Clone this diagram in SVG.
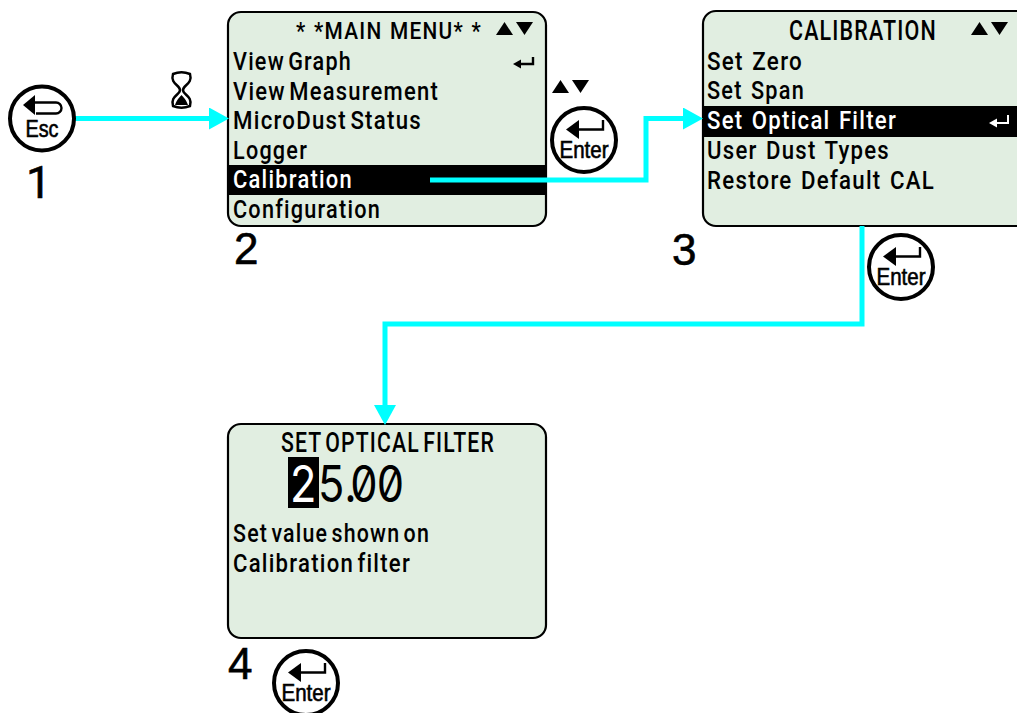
<svg xmlns="http://www.w3.org/2000/svg" width="1017" height="713" viewBox="0 0 1017 713">
<style>
.scr{fill:#e1eee1;stroke:#000;stroke-width:2.2}
.t{font-family:Roboto,"Liberation Sans",sans-serif;font-size:26.500px;font-weight:500;letter-spacing:1.500px;word-spacing:-4px;fill:#000}
.w{fill:#fff}
.h{font-size:24px}
.h2{font-size:27.500px}
.num{font-family:"Liberation Sans",sans-serif;font-size:44px;fill:#000;stroke:#000;stroke-width:.6}
.key{font-family:"Liberation Sans",sans-serif;font-size:23px;fill:#000;stroke:#000;stroke-width:.6}
.ring{fill:#fff;stroke:#000;stroke-width:4}
.lp{fill:none;stroke:#000;stroke-width:2.400}
.con{fill:none;stroke:#00ffff;stroke-width:5}
.bar{fill:#000}
.big{font-family:Inter,sans-serif;font-size:51px;font-feature-settings:'zero'}
</style>
<defs>
<marker id="ah" markerUnits="userSpaceOnUse" markerWidth="22" markerHeight="24" refX="10" refY="11" orient="auto"><path d="M0 0L20 11L0 22Z" fill="#00ffff"/></marker>
<g id="tris"><path d="M0 13L8.500 0L17 13Z"/><path d="M20 0H37L28.500 13Z"/></g>
<g id="enter"><circle class="ring" r="32"/><path d="M-18 -10.500L-5 -20V-1Z"/><path class="lp" d="M-6 -10.500H19V-20"/><text class="key" x="0" y="18" text-anchor="middle" textLength="49" lengthAdjust="spacingAndGlyphs">Enter</text></g>
</defs>
<g id="screen-2">
<rect class="scr" x="228" y="12" width="318" height="214" rx="13"/>
<rect class="bar" x="228" y="165" width="318" height="30"/>
<text class="t h" x="296" y="39" style="word-spacing:1px" textLength="186" lengthAdjust="spacingAndGlyphs">* *MAIN MENU* *</text>
<use href="#tris" x="496" y="22"/>
<text class="t" x="233" y="70" textLength="119" lengthAdjust="spacingAndGlyphs">View Graph</text>
<path d="M513 64L521 59.500V68.500Z"/><path class="lp" d="M519 64H533V57"/>
<text class="t" x="233" y="100" textLength="206" lengthAdjust="spacingAndGlyphs">View Measurement</text>
<text class="t" x="233" y="129" textLength="189" lengthAdjust="spacingAndGlyphs">MicroDust Status</text>
<text class="t" x="233" y="159" textLength="75" lengthAdjust="spacingAndGlyphs">Logger</text>
<text class="t w" x="233" y="188" textLength="120" lengthAdjust="spacingAndGlyphs">Calibration</text>
<text class="t" x="233" y="218" textLength="148" lengthAdjust="spacingAndGlyphs">Configuration</text>
</g>
<g id="screen-3">
<rect class="scr" x="703" y="11" width="328" height="215" rx="13"/>
<rect class="bar" x="703" y="106" width="314" height="31"/>
<text class="t h2" x="789" y="40" textLength="148" lengthAdjust="spacingAndGlyphs">CALIBRATION</text>
<use href="#tris" x="971" y="22"/>
<text class="t" x="707" y="70" style="word-spacing:2px" textLength="96" lengthAdjust="spacingAndGlyphs">Set Zero</text>
<text class="t" x="707" y="99" style="word-spacing:2px" textLength="98" lengthAdjust="spacingAndGlyphs">Set Span</text>
<text class="t w" x="707" y="129" style="word-spacing:2px" textLength="190" lengthAdjust="spacingAndGlyphs">Set Optical Filter</text>
<path d="M989 123L997 118.500V127.500Z" fill="#fff"/><path d="M995 123H1008V115" fill="none" stroke="#fff" stroke-width="2"/>
<text class="t" x="707" y="159" style="word-spacing:2px" textLength="183" lengthAdjust="spacingAndGlyphs">User Dust Types</text>
<text class="t" x="707" y="189" style="word-spacing:2px" textLength="228" lengthAdjust="spacingAndGlyphs">Restore Default CAL</text>
</g>
<g id="screen-4">
<rect class="scr" x="228" y="424" width="318" height="214" rx="13"/>
<text class="t h2" x="281" y="452" textLength="214" lengthAdjust="spacingAndGlyphs">SET OPTICAL FILTER</text>
<rect class="bar" x="288" y="457" width="31" height="51"/>
<text class="big" transform="translate(290 502) scale(.85 1)" x="0" y="0" fill="#fff">2</text>
<text class="big" transform="translate(318 502) scale(.85 1)" x="0 31 38 69" y="0" fill="#000">5.00</text>
<text class="t" x="233" y="542" textLength="197" lengthAdjust="spacingAndGlyphs">Set value shown on</text>
<text class="t" x="233" y="572" textLength="178" lengthAdjust="spacingAndGlyphs">Calibration filter</text>
</g>
<g id="connectors">
<path class="con" d="M75 118.500H219" marker-end="url(#ah)"/>
<path class="con" d="M430 180H646V118.500H693" marker-end="url(#ah)"/>
<path class="con" d="M862 226V324H385V415" marker-end="url(#ah)"/>
</g>
<g id="key-esc" transform="translate(42 118.500)">
<circle class="ring" r="32"/>
<path d="M-19 -13.500L-7 -23.500V-3.500Z"/><path class="lp" d="M-8 -16H14A5.500 5.500 0 0 1 14 -5H-6"/>
<text class="key" x="0" y="18" text-anchor="middle" textLength="33" lengthAdjust="spacingAndGlyphs">Esc</text>
</g>
<g id="key-enter-1"><use href="#enter" transform="translate(584 140)"/></g>
<g id="key-enter-2"><use href="#enter" transform="translate(901 267)"/></g>
<g id="key-enter-3"><use href="#enter" transform="translate(306 683)"/></g>
<g id="updown"><use href="#tris" x="552" y="80"/></g>
<g id="hourglass">
<path d="M173 74C170 84 180 85 180 90C180 95 170 96 173 106C178 108 185 108 190 106C193 96 183 95 183 90C183 85 193 84 190 74C185 72 178 72 173 74Z" fill="#fff" stroke="#000" stroke-width="2.500"/>
<path d="M175 105C177 99 180 97 181.500 95C183 97 186 99 188 105Z"/>
</g>
<text class="num" x="26" y="198" style="font-family:Roboto,sans-serif;font-size:45px">1</text>
<text class="num" x="234" y="264">2</text>
<text class="num" x="672" y="265">3</text>
<text class="num" x="228" y="679">4</text>
</svg>
